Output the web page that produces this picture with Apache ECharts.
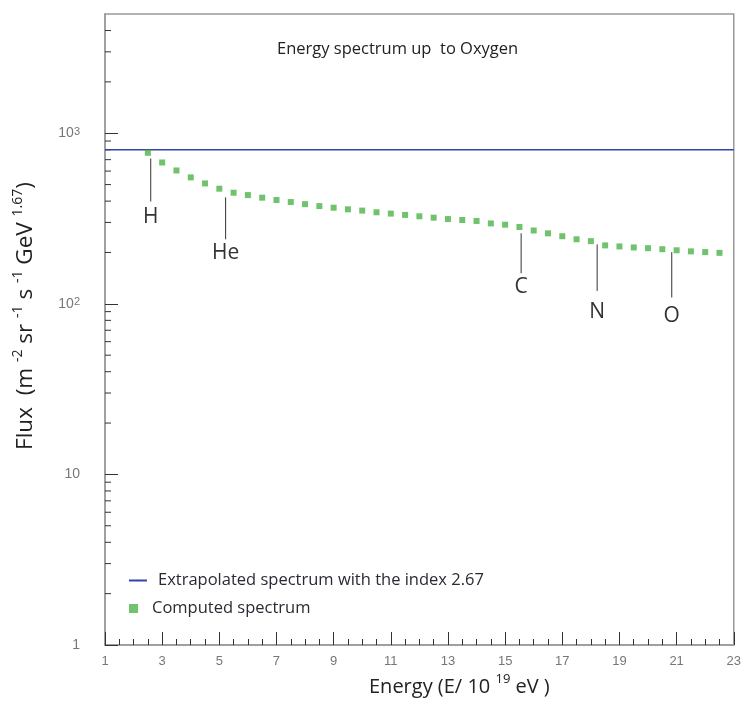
<!DOCTYPE html>
<html>
<head>
<meta charset="utf-8">
<script src="https://cdn.jsdelivr.net/npm/echarts@6/dist/echarts.min.js"></script>
<style>
  html, body { margin: 0; padding: 0; background: #fff; }
  #main { width: 744px; height: 708px; }
</style>
</head>
<body>
<div id="main"></div>
<script>
// computed spectrum (green squares), energy in units of 10^19 eV
var energy = [2.5, 3, 3.5, 4, 4.5, 5, 5.5, 6, 6.5, 7, 7.5, 8, 8.5, 9, 9.5, 10, 10.5, 11,
              11.5, 12, 12.5, 13, 13.5, 14, 14.5, 15, 15.5, 16, 16.5, 17, 17.5, 18, 18.5,
              19, 19.5, 20, 20.5, 21, 21.5, 22, 22.5];
var flux = [768, 674, 605, 551, 508, 473, 448, 434, 419, 406, 395, 384, 374, 366, 358, 352,
            344, 338, 332, 326, 320, 314, 310, 306, 296, 291, 282, 269, 259, 249, 239, 233,
            220, 217, 214, 212, 209, 206, 203, 201, 199];

// extrapolated spectrum (blue line)
var extrapX = [1, 23];
var extrapY = [800, 800];

// element markers: name, energy, line top / bottom and label flux
var elemName = ['H', 'He', 'C', 'N', 'O'];
var elemX = [2.6, 5.22, 15.56, 18.22, 20.83];
var elemTop = [711, 421, 259, 223, 201];
var elemBottom = [398, 239, 151, 119, 109];
var elemLabel = [321, 198, 125, 89, 85];

// minor ticks of the log axis
var yMinor = [2, 3, 4, 5, 6, 7, 8, 9, 20, 30, 40, 50, 60, 70, 80, 90,
              200, 300, 400, 500, 600, 700, 800, 900, 2000, 3000, 4000];

var NAME_EXT = 'Extrapolated spectrum with the index 2.67';
var NAME_COMP = 'Computed spectrum';

var chart = echarts.init(document.getElementById('main'));

var option = {
    animation: false,
    title: {
        text: 'Energy spectrum up  to Oxygen',
        left: 272,
        top: 36,
        textStyle: { fontFamily: 'Open Sans', fontWeight: 'normal', fontSize: 16.5, color: '#222' }
    },
    legend: [
        {
            data: [NAME_EXT],
            left: 123, top: 567,
            itemWidth: 18, itemHeight: 2,
            textStyle: { fontFamily: 'Open Sans', fontSize: 16.5, color: '#2a2a33', padding: [0, 0, 0, 6] }
        },
        {
            data: [{ name: NAME_COMP, icon: 'rect' }],
            left: 124, top: 595,
            itemWidth: 9, itemHeight: 9,
            textStyle: { fontFamily: 'Open Sans', fontSize: 16.5, color: '#2a2a33', padding: [0, 0, 0, 9] }
        }
    ],
    grid: {
        left: 105, right: 9, top: 14, bottom: 63,
        show: true, borderColor: '#9a9a9a', borderWidth: 1.5
    },
    xAxis: {
        type: 'value',
        min: 1, max: 23, interval: 2,
        axisLine: { lineStyle: { color: '#9a9a9a', width: 1.5 } },
        axisTick: { inside: true, length: 13, lineStyle: { color: '#333' } },
        minorTick: { show: true, splitNumber: 4, length: 6, lineStyle: { color: '#333' } },
        splitLine: { show: false },
        axisLabel: { fontFamily: 'Liberation Sans', fontSize: 13, color: '#777', margin: 10 },
        name: 'Energy (E/ 10 {s|19} eV )',
        nameLocation: 'middle',
        nameGap: 28,
        nameTextStyle: {
            fontFamily: 'Open Sans', fontSize: 20, color: '#222', lineHeight: 28,
            padding: [0, 0, 0, 80],
            rich: { s: { fontFamily: 'Open Sans', fontSize: 13, verticalAlign: 'top', lineHeight: 15, color: '#222' } }
        }
    },
    yAxis: {
        type: 'log',
        logBase: 10,
        min: 1, max: 5000,
        axisLine: { show: true, lineStyle: { color: '#9a9a9a', width: 1.5 } },
        axisTick: { show: true, inside: true, length: 13, lineStyle: { color: '#333' } },
        splitLine: { show: false },
        axisLabel: {
            margin: 25,
            showMaxLabel: false,
            fontFamily: 'Liberation Sans', fontSize: 14, color: '#777',
            formatter: function (v) {
                var r = Math.round(v);
                if (r === 1) return '1';
                if (r === 10) return '10';
                if (r === 100) return '10{s|2}';
                if (r === 1000) return '10{s|3}';
                return '';
            },
            rich: { s: { fontFamily: 'Liberation Sans', fontSize: 11, color: '#777', verticalAlign: 'top', lineHeight: 11 } }
        },
        name: 'Flux  (m {s|-2} sr {s|-1} s {s|-1} GeV {s|1.67})',
        nameLocation: 'middle',
        nameRotate: 90,
        nameGap: 64,
        nameTextStyle: {
            fontFamily: 'Open Sans', fontSize: 22.5, color: '#222', lineHeight: 30,
            padding: [0, 0, 0, 27],
            rich: { s: { fontFamily: 'Open Sans', fontSize: 14, verticalAlign: 'top', lineHeight: 15, color: '#222' } }
        }
    },
    series: [
        {
            name: NAME_EXT,
            type: 'line',
            symbol: 'none',
            data: extrapX.map(function (x, i) { return [x, extrapY[i]]; }),
            lineStyle: { color: '#3344aa', width: 1.4 },
            itemStyle: { color: '#3344aa' },
            z: 3
        },
        {
            name: NAME_COMP,
            type: 'scatter',
            symbol: 'rect',
            symbolSize: 6,
            data: energy.map(function (x, i) { return [x, flux[i]]; }),
            itemStyle: { color: '#4cb447' },
            z: 4
        },
        {
            // element markers
            type: 'custom',
            silent: true,
            data: elemName.map(function (n, i) { return [elemX[i], elemTop[i], elemBottom[i], elemLabel[i], n]; }),
            renderItem: function (params, api) {
                var x = api.value(0);
                var p1 = api.coord([x, api.value(1)]);
                var p2 = api.coord([x, api.value(2)]);
                var pl = api.coord([x, api.value(3)]);
                return {
                    type: 'group',
                    children: [
                        { type: 'line', shape: { x1: p1[0], y1: p1[1], x2: p2[0], y2: p2[1] },
                          style: { stroke: '#333', lineWidth: 1 } },
                        { type: 'text', x: pl[0], y: pl[1],
                          style: { text: elemName[params.dataIndex], fontFamily: 'Open Sans', fontSize: 21,
                                   fill: '#333', align: 'center', verticalAlign: 'middle' } }
                    ]
                };
            },
            z: 2
        },
        {
            // log-axis minor ticks
            type: 'custom',
            silent: true,
            data: yMinor.map(function (v) { return [1, v]; }),
            renderItem: function (params, api) {
                var p = api.coord([api.value(0), api.value(1)]);
                return { type: 'line', shape: { x1: p[0], y1: p[1], x2: p[0] + 6, y2: p[1] },
                         style: { stroke: '#333', lineWidth: 1 } };
            },
            clip: false,
            z: 2
        }
    ]
};

chart.setOption(option);
</script>
</body>
</html>
